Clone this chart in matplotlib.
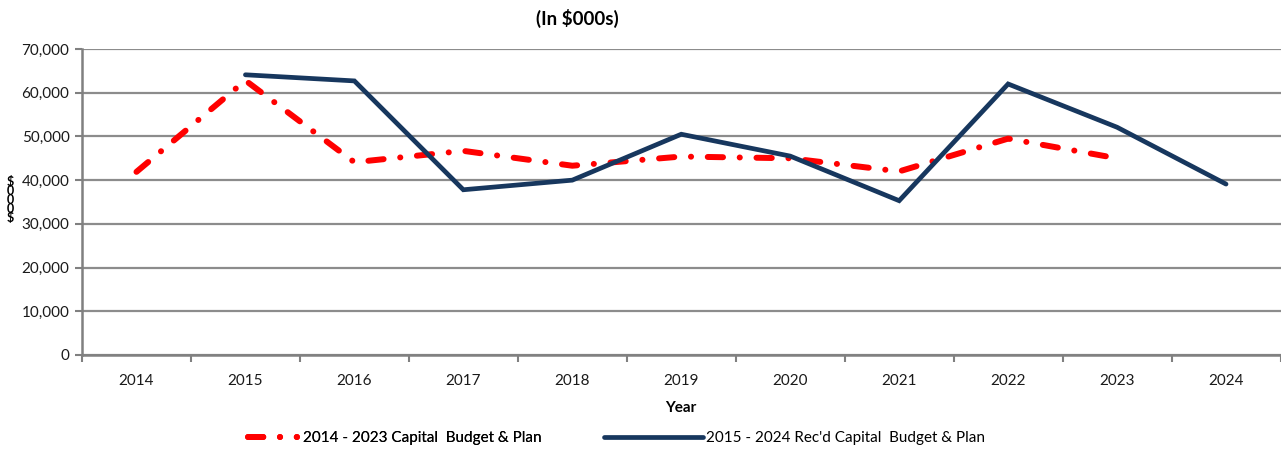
import matplotlib
matplotlib.use("Agg")
import matplotlib.pyplot as plt
from matplotlib.ticker import FuncFormatter, FixedLocator

years = [2014, 2015, 2016, 2017, 2018, 2019, 2020, 2021, 2022, 2023, 2024]
plan_2014_2023 = [41900, 62800, 44100, 46700, 43300, 45400, 45000, 42000, 49500, 45000, None]
plan_2015_2024 = [None, 64100, 62700, 37800, 40000, 50500, 45500, 35300, 62000, 52100, 39100]
y_ticks = [0, 10000, 20000, 30000, 40000, 50000, 60000, 70000]

plt.rcParams['font.family'] = ['Lato', 'DejaVu Sans']
plt.rcParams['lines.scale_dashes'] = False

fig = plt.figure(figsize=(12.81, 4.5), dpi=100)
ax = fig.add_axes([82/1281, 1-355/450, 1-82/1281-0.5/1281, (355-49)/450])

xs = [i + 0.5 for i in range(len(years))]

def seg(vals):
    px = [x for x, v in zip(xs, vals) if v is not None]
    pv = [v for v in vals if v is not None]
    return px, pv

rx, rv = seg(plan_2014_2023)
bx, bv = seg(plan_2015_2024)

red_line, = ax.plot(rx, rv, color='#FF0000', lw=4.3, solid_capstyle='round',
                    dash_capstyle='round', label='2014 - 2023 Capital  Budget & Plan', zorder=3)
red_line.set_dashes([11, 12, 0.1, 12])
blue_line, = ax.plot(bx, bv, color='#17375E', lw=3.4, solid_capstyle='round',
                     solid_joinstyle='miter', label="2015 - 2024 Rec'd Capital  Budget & Plan", zorder=4)

ax.set_xlim(0, len(years))
ax.set_ylim(0, 70000)
ax.set_yticks(y_ticks)
ax.yaxis.set_major_formatter(FuncFormatter(lambda v, p: f"{int(v):,}"))
ax.xaxis.set_major_locator(FixedLocator(list(range(len(years) + 1))))
ax.xaxis.set_minor_locator(FixedLocator(xs))
ax.set_xticklabels([])
ax.set_xticklabels([str(y) for y in years], minor=True)
ax.tick_params(axis='x', which='major', length=5, width=1.5, color='#808080', direction='out')
ax.tick_params(axis='x', which='minor', length=0, labelsize=11, pad=14, labelcolor='#1a1a1a')
ax.tick_params(axis='y', length=5, width=1.5, color='#808080', labelsize=11, pad=4, labelcolor='#1a1a1a')

ax.grid(axis='y', color='#8c8c8c', lw=1.6, zorder=1)
ax.set_axisbelow(True)
for s in ['top', 'right']:
    ax.spines[s].set_visible(False)
for s in ['left', 'bottom']:
    ax.spines[s].set_color('#808080')
    ax.spines[s].set_linewidth(1.8)

ax.set_xlabel('Year', fontsize=11, fontweight='bold', labelpad=9)
fig.text(10/1281, 1-200/450, "\\$\n0\n0\n0\n\\$", fontsize=9, fontweight='bold',
         ha='center', va='center', linespacing=0.68)

fig.text(577/1281, 1-18/450, "(In \\$000s)", fontsize=13.5, fontweight='bold',
         ha='center', va='center')

leg1 = fig.legend(handles=[red_line], loc='center left', bbox_to_anchor=(248/1281, 1-438/450),
                  frameon=False, fontsize=11, handlelength=3.2, handletextpad=0.4,
                  borderpad=0, borderaxespad=0)
fig.add_artist(leg1)
leg2 = fig.legend(handles=[blue_line], loc='center left', bbox_to_anchor=(604/1281, 1-438/450),
                  frameon=False, fontsize=11, handlelength=6.5, handletextpad=0.15,
                  borderpad=0, borderaxespad=0)

fig.savefig('out.png', dpi=100)
